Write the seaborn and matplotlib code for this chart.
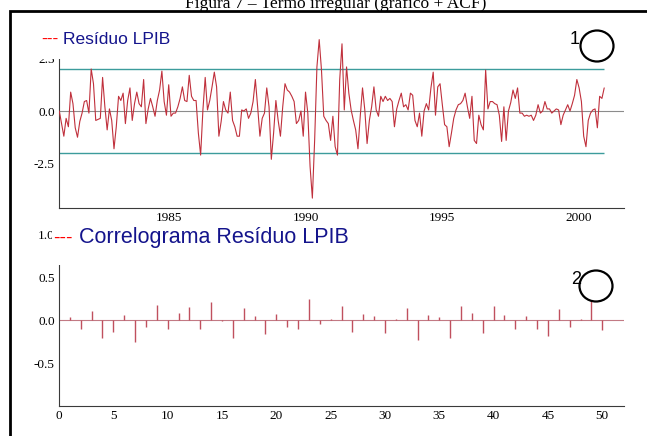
import numpy as np
import pandas as pd
import matplotlib
matplotlib.use("Agg")
import matplotlib.pyplot as plt
import seaborn as sns
from matplotlib.patches import Rectangle, Ellipse
from matplotlib.ticker import MultipleLocator, FixedLocator, FormatStrFormatter

# ---------------- data ----------------
start_year = 1981
resid = [
    # 1981
    0.0, -0.6, -1.2, -0.35, -0.75, 0.9, 0.35, -0.8, -1.25, -0.5, -0.1, 0.45,
    # 1982
    0.5, -0.1, 2.0, 1.3, -0.45, -0.4, -0.35, 1.6, 0.2, -0.9, 0.1, -0.45,
    # 1983
    -1.8, -0.75, 0.7, 0.5, 0.85, -0.6, 0.5, 1.1, -0.45, 0.35, 0.9, 0.35,
    # 1984
    0.2, 1.5, -0.6, 0.1, 0.6, 0.2, -0.25, 0.5, 1.0, 1.9, 0.45, -0.2,
    # 1985
    1.25, -0.25, -0.1, -0.1, 0.2, 0.6, 1.15, 0.5, 0.45, 1.7, 0.7, 0.5,
    # 1986
    0.5, -1.05, -2.1, 0.05, 1.6, 0.05, 0.5, 1.15, 1.85, 1.15, -1.2, -0.5,
    # 1987
    0.45, 0.05, -0.1, 0.9, -0.45, -0.75, -1.2, -1.2, 0.05, 0.0, 0.1, -0.35,
    # 1988
    -0.1, 0.45, 1.5, 0.2, -1.2, -0.35, -0.1, 1.1, 0.2, -2.3, -1.05, 0.5,
    # 1989
    -0.45, -1.2, 0.2, 1.3, 1.0, 0.9, 0.7, 0.45, -0.6, -0.45, 0.0, -1.2,
    # 1990
    0.9, -0.1, -2.65, -4.15, -1.4, 2.1, 3.4, 1.95, -0.25, -0.45, -0.6, -1.4,
    # 1991
    -0.25, -1.7, -2.1, 1.5, 3.2, 0.05, 2.1, 0.85, 0.05, -0.45, -0.9, -1.8,
    # 1992
    -0.25, 1.1, 0.05, -1.55, -0.45, 0.2, 1.15, 0.05, -0.25, 0.7, 0.45, 0.7,
    # 1993
    0.5, 0.6, 0.45, -0.75, 0.1, 0.5, 0.85, 0.2, 0.3, 0.05, 0.85, 0.75,
    # 1994
    -0.45, -0.75, -0.1, -1.2, 0.0, 0.35, 0.05, 1.1, 1.85, -0.2, 1.15, 1.3,
    # 1995
    0.3, -0.65, -0.75, -1.7, -1.05, -0.35, 0.05, 0.3, 0.35, 0.5, 0.85, 0.2,
    # 1996
    -0.35, 0.7, -1.4, -1.55, -0.2, -0.65, -0.9, 1.95, 0.1, 0.45, 0.45, 0.35,
    # 1997
    0.3, -0.2, -1.45, 0.2, -1.4, 0.0, 0.4, 1.0, 0.6, 1.1, -0.1, -0.1,
    # 1998
    -0.25, -0.2, -0.25, -0.2, -0.45, -0.2, 0.3, -0.1, 0.0, 0.45, 0.1, 0.1,
    # 1999
    -0.1, 0.0, 0.1, 0.05, -0.65, -0.2, 0.05, 0.3, 0.0, 0.35, 0.75, 1.5,
    # 2000
    1.1, 0.45, -1.2, -1.7, -0.45, -0.1, 0.05, 0.1, -0.8, 0.7, 0.6, 1.1,
]
band = 2.0
lags = list(range(1, 51))
acf = [0.03, -0.11, 0.10, -0.21, -0.14, 0.06, -0.26, -0.08, 0.18, -0.10,
       0.085, 0.15, -0.10, 0.21, -0.01, -0.21, 0.14, 0.05, -0.16, 0.065,
       -0.08, -0.11, 0.245, -0.05, 0.01, 0.16, -0.14, 0.075, 0.045, -0.15,
       0.015, 0.14, -0.23, 0.055, 0.04, -0.21, 0.165, 0.08, -0.15, 0.165,
       0.055, -0.105, 0.045, -0.11, -0.19, 0.13, -0.08, 0.01, 0.22, -0.12]
year_ticks = [1985, 1990, 1995, 2000]
resid_yticks = [-2.5, 0.0, 2.5]
acf_yticks = [-0.5, 0.0, 0.5, 1.0]
title = "Figura 7 – Termo irregular (gráfico + ACF)"
label_top = "Resíduo LPIB"
label_bottom = "Correlograma Resíduo LPIB"

# ---------------- style ----------------
sns.set_theme(style="white")
plt.rcParams["font.family"] = ["Liberation Serif", "DejaVu Serif"]
plt.rcParams["axes.unicode_minus"] = False

W, H = 647, 436
fig = plt.figure(figsize=(W / 100, H / 100), dpi=100)
fig.patch.set_facecolor("white")


def fx(px):
    return px / W


def fy(py):
    return 1 - py / H


ax1 = fig.add_axes([fx(59), fy(208), fx(624) - fx(59), fy(35) - fy(208)])
ax2 = fig.add_axes([fx(59), fy(406), fx(624) - fx(59), fy(234) - fy(406)])

# ---------------- top: residual series ----------------
t = start_year + np.arange(len(resid)) / 12.0
df = pd.DataFrame({"t": t, "resid": resid})
ax1.axhline(0, color="#8c8c8c", lw=0.8, zorder=1)
ax1.hlines([band, -band], t[0], t[-1], color="#3c9c9c", lw=1.0, zorder=2)
sns.lineplot(data=df, x="t", y="resid", ax=ax1, color="#c0303c", lw=0.8, zorder=3)
ax1.set_xlim(1980.99, 2001.64)
ax1.set_ylim(-4.62, 3.62)
ax1.xaxis.set_major_locator(FixedLocator(year_ticks))
ax1.xaxis.set_minor_locator(MultipleLocator(1))
ax1.yaxis.set_major_locator(FixedLocator(resid_yticks))
ax1.yaxis.set_minor_locator(MultipleLocator(0.5))
ax1.yaxis.set_major_formatter(FormatStrFormatter("%.1f"))
ax1.xaxis.set_major_formatter(FormatStrFormatter("%d"))

# ---------------- bottom: correlogram ----------------
acf_df = pd.DataFrame({"lag": lags, "acf": acf})
ax2.axhline(0, color="#c27a84", lw=0.8, zorder=1)
ax2.vlines(acf_df["lag"], 0, acf_df["acf"], color="#c0505e", lw=1.0, zorder=2)
ax2.set_xlim(0, 52)
ax2.set_ylim(-1.0, 1.0)
ax2.xaxis.set_major_locator(MultipleLocator(5))
ax2.xaxis.set_minor_locator(MultipleLocator(1))
ax2.yaxis.set_major_locator(FixedLocator(acf_yticks))
ax2.yaxis.set_minor_locator(MultipleLocator(0.1))
ax2.yaxis.set_major_formatter(FormatStrFormatter("%.1f"))

for ax in (ax1, ax2):
    ax.set_xlabel("")
    ax.set_ylabel("")
    ax.set_facecolor("white")
    for s in ("top", "right"):
        ax.spines[s].set_visible(False)
    for s in ("left", "bottom"):
        ax.spines[s].set_color("#3a3a3a")
        ax.spines[s].set_linewidth(0.8)
    ax.tick_params(which="both", direction="in", color="#3a3a3a",
                   labelsize=9.5, labelcolor="black", pad=3)
    ax.tick_params(which="major", length=4, width=0.8)
    ax.tick_params(which="minor", length=2.5, width=0.6)

# ---------------- legends with white boxes ----------------
sans = ["Liberation Sans", "DejaVu Sans"]
fig.add_artist(Rectangle((fx(33), fy(59)), fx(176) - fx(33), fy(20) - fy(59),
                         transform=fig.transFigure, facecolor="white",
                         edgecolor="none", zorder=5))
fig.text(fx(41), fy(44), "---", color="#ff0000", fontsize=12.5,
         family=sans, va="baseline", ha="left", zorder=6)
fig.text(fx(63), fy(44.3), label_top, color="#14148c", fontsize=12.5,
         family=sans, va="baseline", ha="left", zorder=6)

fig.add_artist(Rectangle((fx(51.5), fy(265)), fx(352) - fx(51.5), fy(223) - fy(265),
                         transform=fig.transFigure, facecolor="white",
                         edgecolor="none", zorder=5))
fig.text(fx(53), fy(242.5), "---", color="#ff0000", fontsize=14,
         family=sans, va="baseline", ha="left", zorder=6)
fig.text(fx(79), fy(243.3), label_bottom, color="#14148c", fontsize=15.5,
         family=sans, va="baseline", ha="left", zorder=6)

# ---------------- annotations ----------------
fig.add_artist(Ellipse((fx(597), fy(46)), 33 / W, 31 / H, transform=fig.transFigure,
                       fill=False, edgecolor="black", lw=1.6, zorder=7))
fig.text(fx(570), fy(44), "1", color="black", fontsize=13, family=sans,
         va="baseline", ha="left", zorder=7)
fig.add_artist(Ellipse((fx(596), fy(286)), 33 / W, 31 / H, transform=fig.transFigure,
                       fill=False, edgecolor="black", lw=1.6, zorder=7))
fig.text(fx(571), fy(284), "2", color="black", fontsize=13, family=sans,
         va="baseline", ha="left", zorder=7)

# ---------------- title and frame ----------------
fig.text(fx(336), fy(7.5), title, ha="center", va="baseline", fontsize=12.5,
         family=["Liberation Serif", "DejaVu Serif"], color="black", zorder=7)
fig.add_artist(Rectangle((fx(9.5), fy(600)), fx(900) - fx(9.5), fy(10.7) - fy(600),
                         transform=fig.transFigure, fill=False,
                         edgecolor="black", lw=2.0, zorder=8))

fig.savefig("out.png", dpi=100)
